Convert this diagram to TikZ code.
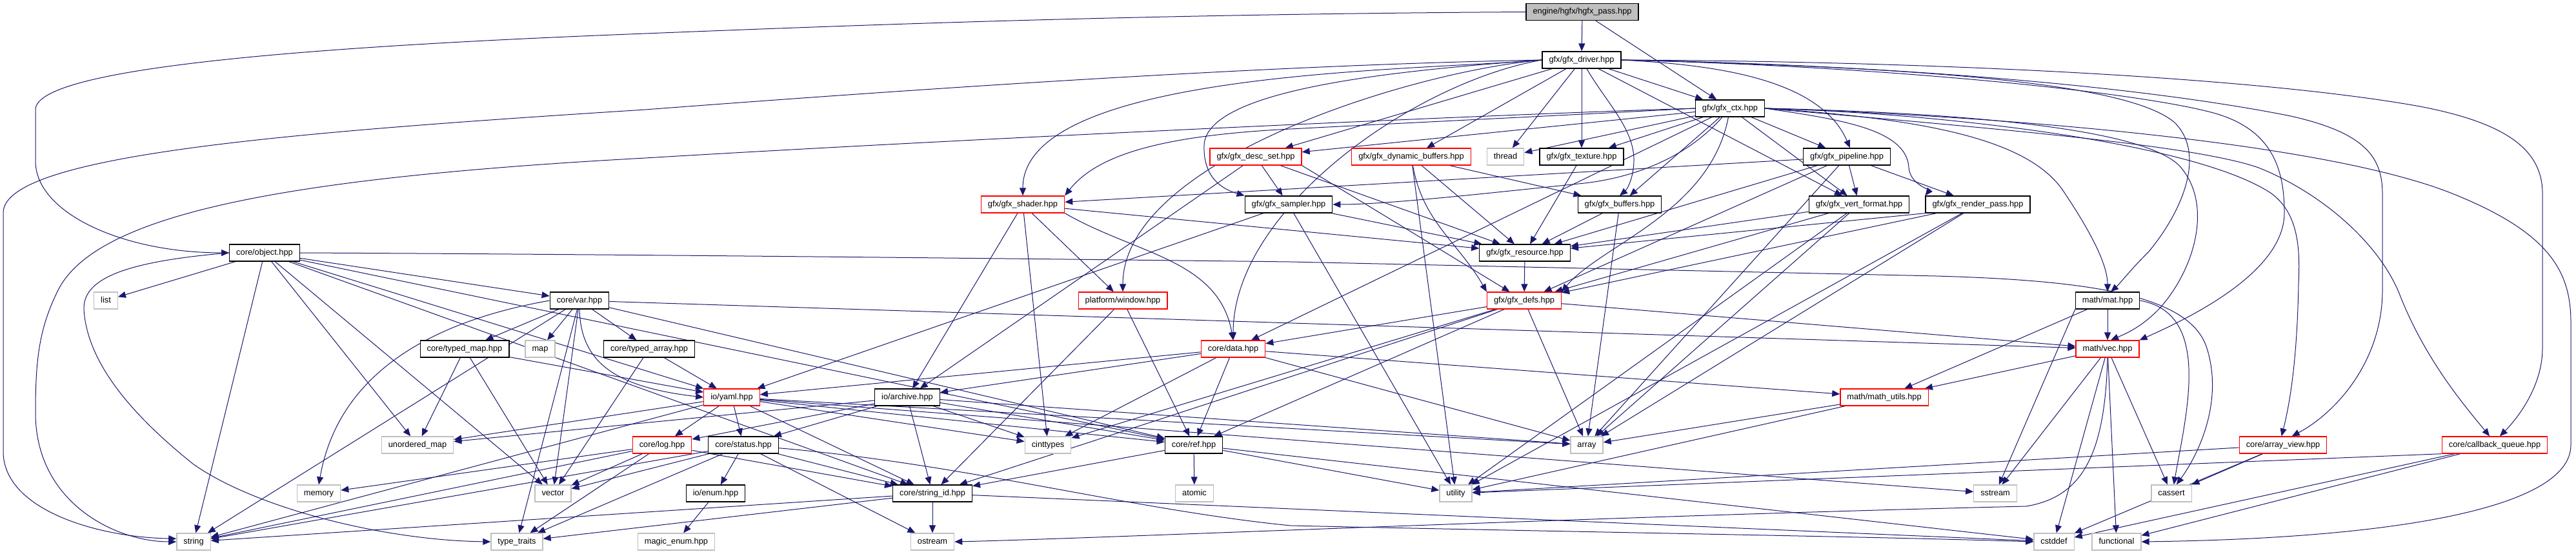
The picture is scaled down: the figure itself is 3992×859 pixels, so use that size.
\documentclass[tikz,border=0pt]{standalone}
\usepackage{fontspec}
\setmainfont{Liberation Sans}
\usetikzlibrary{arrows.meta}
\definecolor{edgeblue}{RGB}{25,25,112}
\definecolor{boxred}{RGB}{255,0,0}
\definecolor{boxgray}{RGB}{191,191,191}
\pgfdeclarelayer{back}
\pgfdeclarelayer{bg}
\pgfsetlayers{back,bg,main}
\begin{document}
\begin{tikzpicture}[x=1pt,y=1pt,
  fnode/.style={draw=black, line width=1.3pt, fill=white, minimum height=26pt, inner xsep=10.5pt, inner ysep=0pt,
    font=\fontsize{12.8}{14}\selectfont, text height=9.4pt, text depth=2.6pt},
  rnode/.style={fnode, draw=boxred},
  snode/.style={fnode, draw=boxgray},
  tnode/.style={fnode, fill=boxgray},
  dep/.style={draw=edgeblue, line width=1pt, -{Triangle[length=12pt,width=10pt]}}
]
\begin{pgfonlayer}{back}
\fill[white] (0,0) rectangle (3992,-859);
\end{pgfonlayer}
\useasboundingbox (0,0) rectangle (3992,-859);

\node[tnode] (A) at (2452,-18.5) {engine/hgfx/hgfx\_pass.hpp};
\node[fnode] (B) at (2451,-93) {gfx/gfx\_driver.hpp};
\node[fnode] (C) at (2681,-168) {gfx/gfx\_ctx.hpp};
\node[rnode] (D) at (1946,-243) {gfx/gfx\_desc\_set.hpp};
\node[rnode] (E) at (2187,-243) {gfx/gfx\_dynamic\_buffers.hpp};
\node[snode] (F) at (2333,-243) {thread};
\node[fnode] (G) at (2451,-243) {gfx/gfx\_texture.hpp};
\node[fnode] (H) at (2862,-243) {gfx/gfx\_pipeline.hpp};
\node[rnode] (I) at (1585,-317) {gfx/gfx\_shader.hpp};
\node[fnode] (J) at (1997,-317) {gfx/gfx\_sampler.hpp};
\node[fnode] (K) at (2510,-317) {gfx/gfx\_buffers.hpp};
\node[fnode] (L) at (2881,-317) {gfx/gfx\_vert\_format.hpp};
\node[fnode] (M) at (3065,-317) {gfx/gfx\_render\_pass.hpp};
\node[fnode] (N) at (2363,-392) {gfx/gfx\_resource.hpp};
\node[fnode] (O) at (410,-392) {core/object.hpp};
\node[fnode] (P) at (898,-466) {core/var.hpp};
\node[rnode] (Q) at (1740,-466) {platform/window.hpp};
\node[rnode] (R) at (2362,-466) {gfx/gfx\_defs.hpp};
\node[fnode] (S) at (3266,-466) {math/mat.hpp};
\node[snode] (T) at (164,-466) {list};
\node[fnode] (U) at (720,-541) {core/typed\_map.hpp};
\node[snode] (V) at (837,-541) {map};
\node[fnode] (W) at (1006,-541) {core/typed\_array.hpp};
\node[rnode] (X) at (1911,-541) {core/data.hpp};
\node[rnode] (Y) at (3266,-541) {math/vec.hpp};
\node[rnode] (Z) at (1134,-616) {io/yaml.hpp};
\node[fnode] (AA) at (1406,-616) {io/archive.hpp};
\node[rnode] (AB) at (2920,-616) {math/math\_utils.hpp};
\node[snode] (AC) at (647,-690) {unordered\_map};
\node[rnode] (AD) at (1026,-690) {core/log.hpp};
\node[fnode] (AE) at (1152,-690) {core/status.hpp};
\node[snode] (AF) at (1624,-690) {cinttypes};
\node[fnode] (AG) at (1850,-690) {core/ref.hpp};
\node[snode] (AH) at (2459,-690) {array};
\node[rnode] (AI) at (3538,-690) {core/array\_view.hpp};
\node[rnode] (AJ) at (3866,-690) {core/callback\_queue.hpp};
\node[snode] (AK) at (494,-765) {memory};
\node[snode] (AL) at (857,-765) {vector};
\node[fnode] (AM) at (1109,-765) {io/enum.hpp};
\node[fnode] (AN) at (1445,-765) {core/string\_id.hpp};
\node[snode] (AO) at (1851,-765) {atomic};
\node[snode] (AP) at (2256,-765) {utility};
\node[snode] (AQ) at (3092,-765) {sstream};
\node[snode] (AR) at (3365,-765) {cassert};
\node[snode] (AS) at (300,-840) {string};
\node[snode] (AT) at (801,-840) {type\_traits};
\node[snode] (AU) at (1048,-840) {magic\_enum.hpp};
\node[snode] (AV) at (1445,-840) {ostream};
\node[snode] (AW) at (3183,-840) {cstddef};
\node[snode] (AX) at (3280,-840) {functional};

\begin{pgfonlayer}{bg}
\foreach \src/\dst in {A/B,A/C,
  B/C,B/D,B/E,B/F,B/G,B/L,
  C/D,C/F,C/G,C/H,C/K,C/L,C/X,
  D/J,D/N,D/AA,
  E/K,E/N,E/AP,
  G/N,
  H/I,H/L,H/M,H/N,H/R,H/AH,
  I/N,I/AA,I/AF,I/Q,
  J/N,J/Z,J/AP,
  K/N,K/AH,
  L/N,L/R,L/AH,L/AP,
  M/R,M/AH,M/AP,
  N/R,
  O/T,O/P,O/AS,O/AC,O/AL,O/Z,O/AG,O/AN,
  P/U,P/V,P/W,P/AS,P/AT,P/AL,P/AG,P/Y,
  Q/AG,Q/AN,
  R/X,R/AF,R/AG,R/AN,R/AH,R/Y,
  S/Y,S/AB,
  U/AC,U/AL,U/Z,
  W/Z,W/AL,
  X/Z,X/AA,X/AG,X/AB,X/AH,X/AF,
  Y/AB,Y/AQ,Y/AR,Y/AX,Y/AW,
  Z/AD,Z/AE,Z/AN,Z/AF,Z/AG,Z/AH,Z/AQ,Z/AS,Z/AC,
  AA/AD,AA/AE,AA/AN,AA/AF,AA/AG,AA/AC,AA/AH,
  AB/AP,AB/AH,
  AD/AK,AD/AL,AD/AS,AD/AT,AD/AN,
  AE/AM,AE/AN,AE/AV,AE/AS,AE/AT,AE/AL,
  AG/AO,AG/AN,AG/AP,AG/AW,
  AI/AR,AI/AW,AI/AP,
  AJ/AW,AJ/AX,
  AM/AU,
  AN/AV,AN/AS,AN/AT,AN/AW}
  \draw[dep] (\src) -- (\dst);

% long curved connectors
\draw[dep] (A.west) .. controls (1800,-22) and (1400,-36) .. (1000,-52)
  .. controls (480,-72) and (55,-105) .. (55,-170) -- (55,-250)
  .. controls (55,-330) and (190,-392) .. (O.west);
\draw[dep] (B.west) .. controls (2000,-100) and (1500,-132) .. (1000,-170)
  .. controls (450,-205) and (5,-240) .. (5,-330) -- (5,-700)
  .. controls (5,-790) and (150,-833) .. (AS.170);
\draw[dep] (C.west) .. controls (2300,-178) and (1500,-215) .. (1000,-245)
  .. controls (450,-275) and (150,-330) .. (90,-450)
  .. controls (60,-510) and (55,-560) .. (55,-640)
  .. controls (55,-780) and (180,-840) .. (AS.west);
\draw[dep] (O.west) .. controls (200,-405) and (128,-430) .. (130,-480)
  .. controls (135,-560) and (200,-640) .. (300,-720)
  .. controls (400,-790) and (600,-838) .. (AT.west);
\draw[dep] (O.east) .. controls (900,-394) and (1500,-400) .. (2000,-406)
  -- (3000,-428) .. controls (3250,-435) and (3395,-460) .. (3420,-540)
  .. controls (3445,-620) and (3410,-700) .. (AR.60);
\draw[dep] (B.east) .. controls (3000,-95) and (3500,-120) .. (3750,-165)
  .. controls (3880,-190) and (3940,-230) .. (3940,-300) -- (3940,-540)
  .. controls (3940,-600) and (3900,-650) .. (AJ.60);
\draw[dep] (B.east) .. controls (2900,-100) and (3300,-130) .. (3550,-180)
  .. controls (3660,-205) and (3692,-240) .. (3692,-300) -- (3692,-450)
  .. controls (3692,-560) and (3620,-640) .. (AI.45);
\draw[dep] (B.east) .. controls (2900,-102) and (3300,-140) .. (3430,-175)
  .. controls (3520,-200) and (3540,-260) .. (3540,-330)
  .. controls (3540,-420) and (3400,-490) .. (Y.north east);
\draw[dep] (B.east) .. controls (3000,-105) and (3300,-130) .. (3370,-190)
  .. controls (3420,-240) and (3380,-330) .. (3330,-390)
  .. controls (3300,-420) and (3285,-440) .. (S.70);
\draw[dep] (C.east) .. controls (3000,-175) and (3400,-220) .. (3520,-300)
  .. controls (3560,-330) and (3565,-380) .. (3562,-440)
  .. controls (3560,-550) and (3550,-620) .. (AI.100);
\draw[dep] (C.east) .. controls (3100,-200) and (3400,-225) .. (3500,-260)
  .. controls (3600,-300) and (3690,-380) .. (3720,-460)
  .. controls (3760,-560) and (3820,-630) .. (AJ.120);
\draw[dep] (C.east) .. controls (3100,-180) and (3600,-220) .. (3800,-300)
  .. controls (3950,-360) and (3984,-420) .. (3984,-500) -- (3984,-690)
  .. controls (3984,-790) and (3700,-835) .. (AX.east);
\draw[dep] (C.east) .. controls (3000,-185) and (3150,-220) .. (3200,-300)
  .. controls (3240,-360) and (3266,-410) .. (S.north);
\draw[dep] (C.east) .. controls (3050,-175) and (3330,-200) .. (3380,-260)
  .. controls (3430,-320) and (3400,-420) .. (3345,-480)
  .. controls (3320,-505) and (3300,-515) .. (Y.70);

% routed shorter connectors
\draw[dep] (B.west) to[out=185,in=90,looseness=0.6] (I.north);
\draw[dep] (B.west) .. controls (2150,-110) and (1870,-140) .. (1866,-225)
  .. controls (1864,-280) and (1900,-295) .. (J.north west);
\draw[dep] (B.east) .. controls (2650,-100) and (2820,-120) .. (H.70);
\draw[dep] (B) .. controls (2490,-160) and (2533,-200) .. (2532,-250)
  .. controls (2531,-280) and (2520,-295) .. (K.north);
\draw[dep] (B.west) to[out=185,in=90,looseness=0.7] (Q.north);
\draw[dep] (B.west) to[out=190,in=90,looseness=0.8] (X.north);
\draw[dep] (C.west) .. controls (2400,-180) and (2150,-192) .. (2000,-200)
  .. controls (1800,-210) and (1700,-240) .. (I.north east);
\draw[dep] (C) .. controls (2600,-260) and (2500,-280) .. (2446,-285)
  .. controls (2300,-300) and (2150,-317) .. (J.east);
\draw[dep] (C.east) .. controls (2850,-185) and (2955,-200) .. (2958,-260)
  .. controls (2960,-285) and (2990,-295) .. (M.north west);
\draw[dep] (C) .. controls (2650,-330) and (2480,-380) .. (R.north east);
\draw[dep] (D.south east) -- (R);
\draw[dep] (E) to[out=-80,in=120] (R.north west);
\draw[dep] (I.south east) to[out=-30,in=100] (X.north);
\draw[dep] (M.south west) -- (N);
\draw[dep] (P.south) .. controls (900,-560) and (950,-600) .. (Z.west);
\draw[dep] (P.west) to[out=190,in=80] (AK.north);
\draw[dep] (S.south west) -- (AQ);
\draw[dep] (S.east) to[out=-10,in=80] (AR.75);
\draw[dep] (AE) .. controls (1500,-720) and (1750,-790) .. (2000,-815)
  .. controls (2500,-826) and (2900,-832) .. (AW.west);
\draw[dep] (Y.south) .. controls (3262,-700) and (3230,-770) .. (3140,-785)
  .. controls (2500,-800) and (1700,-835) .. (AV.east);
\draw[dep] (AJ.south west) -- (AP);
\end{pgfonlayer}
\end{tikzpicture}
\end{document}
